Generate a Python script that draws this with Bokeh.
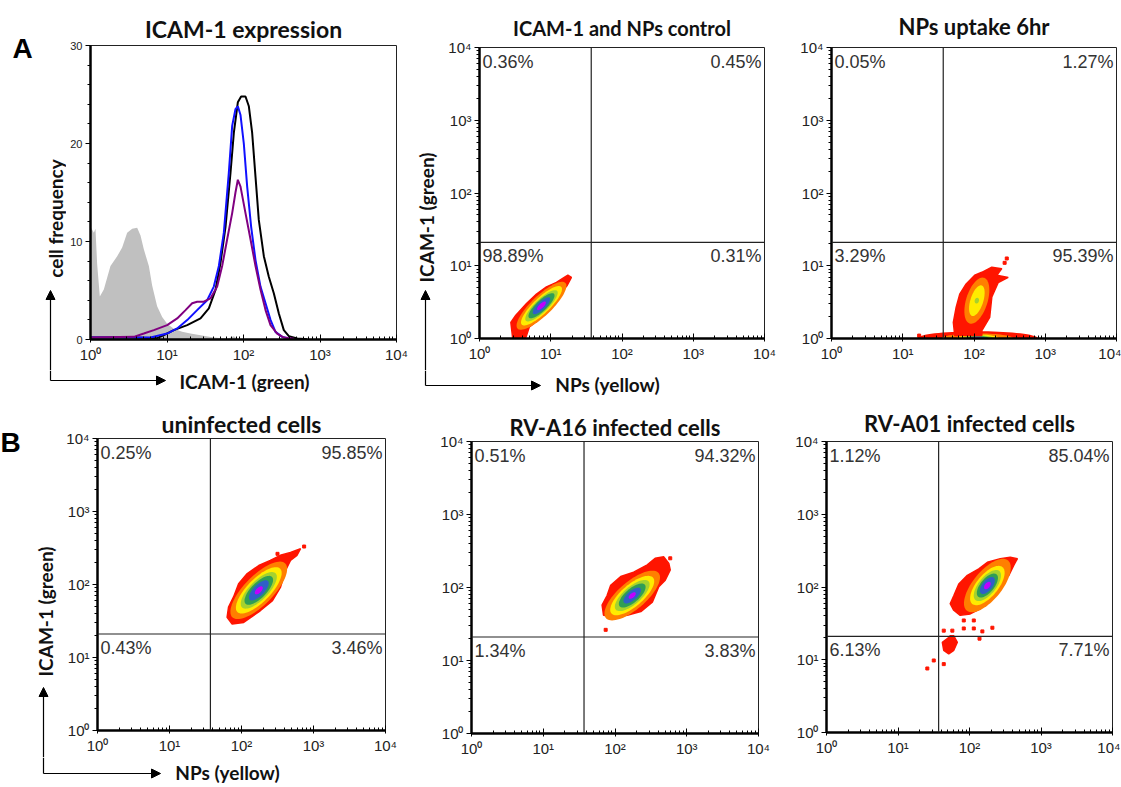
import numpy as np
from bokeh.plotting import figure
from bokeh.models import (Label, Arrow, NormalHead, Span, CustomJSTickFormatter,
                          FixedTicker, Range1d, SingleIntervalTicker)
from bokeh.layouts import row, column
from bokeh.embed import file_html
from bokeh.resources import INLINE

# ---------------- data (log10 positions) ----------------
# Panel A1 histogram: ICAM-1 expression
gray_lx = [0.0, 0.044, 0.065, 0.087, 0.122, 0.174, 0.261, 0.349, 0.414, 0.479, 0.545, 0.610,
           0.654, 0.697, 0.763, 0.806, 0.871, 0.937, 1.002, 1.089, 1.198, 1.307, 1.438,
           1.612, 1.786, 1.874, 1.917, 2.092]
gray_y = [11.5, 10.9, 11.3, 7.7, 4.4, 5.1, 7.5, 8.5, 9.4, 10.9, 11.3, 11.4,
          10.6, 9.2, 7.5, 5.5, 3.4, 2.3, 1.6, 1.1, 0.78, 0.61, 0.44,
          0.2, 0.07, 0.34, 0.07, 0.0]
black_lx = [0.0, 0.566, 0.871, 0.959, 1.089, 1.264, 1.438, 1.547, 1.634, 1.699, 1.765, 1.830,
            1.874, 1.926, 1.969, 2.026, 2.070, 2.113, 2.157, 2.200, 2.266, 2.331, 2.397,
            2.462, 2.527, 2.593, 2.702, 2.832]
black_y = [0.2, 0.2, 0.14, 0.44, 0.96, 1.47, 2.15, 3.17, 5.05, 7.8, 11.5, 17.0,
           21.1, 24.2, 24.8, 24.8, 23.8, 21.1, 16.6, 12.2, 8.5, 6.4, 4.7,
           2.66, 0.96, 0.34, 0.1, 0.03]
blue_lx = [0.0, 0.784, 1.002, 1.133, 1.264, 1.394, 1.525, 1.612, 1.678, 1.743, 1.808, 1.852,
           1.895, 1.926, 1.961, 2.004, 2.048, 2.100, 2.157, 2.222, 2.288, 2.353, 2.418,
           2.505, 2.614]
blue_y = [0.2, 0.2, 0.61, 1.13, 1.98, 3.0, 4.0, 5.4, 7.5, 10.9, 17.0, 21.8,
          23.5, 23.8, 22.9, 20.0, 15.6, 11.5, 8.1, 5.4, 3.7, 2.0, 0.78,
          0.27, 0.07]
purple_lx = [0.0, 0.566, 0.697, 0.828, 1.002, 1.133, 1.242, 1.329, 1.394, 1.481, 1.569, 1.656,
             1.721, 1.786, 1.852, 1.895, 1.926, 1.961, 2.026, 2.092, 2.157, 2.222, 2.288,
             2.353, 2.440, 2.527, 2.658]
purple_y = [0.2, 0.27, 0.61, 0.96, 1.47, 2.15, 3.0, 3.7, 3.86, 3.86, 4.2, 5.4,
            7.5, 10.2, 12.9, 15.0, 16.3, 15.6, 12.9, 10.2, 7.5, 5.1, 3.0,
            1.47, 0.61, 0.2, 0.07]

# Quadrant gates (NPs threshold, ICAM-1 threshold)
gate_x = 37
gate_y = 21

# Quadrant percentages: upper-left, upper-right, lower-left, lower-right
pct_control = ["0.36%", "0.45%", "98.89%", "0.31%"]
pct_uptake = ["0.05%", "1.27%", "3.29%", "95.39%"]
pct_uninf = ["0.25%", "95.85%", "0.43%", "3.46%"]
pct_a16 = ["0.51%", "94.32%", "1.34%", "3.83%"]
pct_a01 = ["1.12%", "85.04%", "6.13%", "7.71%"]

# Outer (red) density contours, log10 coordinates
ctrl_red_lx = [1.29, 1.23, 1.15, 1.05, 0.94, 0.82, 0.70, 0.66, 0.63, 0.47, 0.44, 0.51, 0.66,
               0.80, 0.94, 1.08, 1.19, 1.24]
ctrl_red_ly = [0.84, 0.73, 0.64, 0.52, 0.38, 0.25, 0.16, 0.04, -0.03, -0.03, 0.22, 0.32, 0.48,
               0.61, 0.71, 0.77, 0.84, 0.87]
upt_red_lx = [2.11, 2.25, 2.39, 2.32, 2.48, 2.34, 2.25, 2.22, 2.11, 2.11, 1.73, 1.71, 1.75,
              1.80, 1.89, 2.01]
upt_red_ly = [0.91, 0.98, 0.96, 0.87, 0.84, 0.77, 0.57, 0.29, 0.11, 0.04, 0.04, 0.22, 0.43,
              0.61, 0.75, 0.87]
uninf_red_lx = [2.82, 2.77, 2.68, 2.61, 2.54, 2.43, 2.26, 2.13, 2.03, 1.87, 1.80, 1.82, 1.89,
                1.96, 2.08, 2.24, 2.40, 2.54, 2.68]
uninf_red_ly = [2.49, 2.40, 2.33, 2.19, 1.96, 1.78, 1.64, 1.55, 1.48, 1.46, 1.55, 1.69, 1.83,
                2.01, 2.15, 2.26, 2.33, 2.40, 2.44]
a16_red_lx = [2.75, 2.77, 2.70, 2.61, 2.52, 2.36, 2.17, 1.98, 1.84, 1.82, 1.89, 1.94, 2.08,
              2.26, 2.45, 2.56, 2.68]
a16_red_ly = [2.33, 2.24, 2.10, 2.01, 1.80, 1.67, 1.62, 1.60, 1.62, 1.76, 1.89, 2.03, 2.15,
              2.21, 2.31, 2.40, 2.42]
a01_red_lx = [2.67, 2.62, 2.55, 2.41, 2.29, 2.15, 2.01, 1.87, 1.78, 1.73, 1.78, 1.85, 1.97,
              2.13, 2.25, 2.43, 2.57]
a01_red_ly = [2.39, 2.30, 2.16, 2.02, 1.84, 1.70, 1.63, 1.61, 1.68, 1.77, 1.88, 2.04, 2.16,
              2.25, 2.34, 2.39, 2.41]
a01_sat_lx = [1.78, 1.83, 1.78, 1.71, 1.64, 1.62, 1.69, 1.73]
a01_sat_ly = [1.33, 1.24, 1.13, 1.08, 1.13, 1.24, 1.29, 1.33]

# Isolated events (log10)
upt_dots_lx = [2.46, 2.43, 1.23]
upt_dots_ly = [1.10, 1.04, 0.04]
uninf_dots_lx = [2.87, 2.50]
uninf_dots_ly = [2.52, 2.42]
a16_dots_lx = [2.77, 1.87]
a16_dots_ly = [2.40, 1.42]
a01_dots_lx = [1.64, 1.92, 2.06, 2.18, 2.32, 2.14, 1.41, 1.50, 1.64, 2.06, 1.92, 1.76]
a01_dots_ly = [1.40, 1.43, 1.43, 1.39, 1.44, 1.29, 0.88, 0.99, 0.94, 1.54, 1.54, 1.40]

# Inner density levels: centre (log10), tilt (deg), semi-axes (decades)
ctrl_core = dict(cx=0.87, cy=0.45, ang=43,
                 a=[0.46, 0.38, 0.30, 0.24, 0.16, 0.08], b=[0.14, 0.11, 0.09, 0.075, 0.055, 0.03])
upt_core = dict(cx=2.04, cy=0.52, ang=72,
                a=[0.33, 0.22, 0.04], b=[0.15, 0.09, 0.03])
upt_band = dict(cx=2.05, cy=0.0, ang=0,
                a=[0.85, 0.5, 0.3, 0.22, 0.16, 0.10, 0.05], b=[0.10, 0.07, 0.055, 0.045, 0.035, 0.025, 0.015])
uninf_core = dict(cx=2.24, cy=1.92, ang=45,
                  a=[0.52, 0.42, 0.33, 0.26, 0.18, 0.07], b=[0.20, 0.16, 0.13, 0.105, 0.075, 0.035])
a16_core = dict(cx=2.24, cy=1.89, ang=40,
                a=[0.48, 0.38, 0.30, 0.23, 0.15, 0.06], b=[0.19, 0.15, 0.12, 0.095, 0.065, 0.03])
a01_core = dict(cx=2.25, cy=2.02, ang=50,
                a=[0.45, 0.33, 0.26, 0.20, 0.14, 0.06], b=[0.20, 0.15, 0.12, 0.095, 0.07, 0.035])

RED = "#ff1500"
LEVELS = ["#ff7f00", "#ffec00", "#a6d22e", "#2f9e55", "#2f5fc8", "#c000ff"]
LEVELS7 = [RED] + LEVELS

DECADES = [1, 10, 100, 1000, 10000]
MINORS = [m * 10 ** k for k in range(4) for m in range(2, 10)]

TXT = "#333333"
LBL_FONT = "Lato"
NUM_FONT = "Liberation Sans"
AX_SIZE = "19px"

sup_fmt_code = """
const s = {0: '\u2070', 1: '\u00b9', 2: '\u00b2', 3: '\u00b3', 4: '\u2074'};
const e = Math.round(Math.log10(tick));
return '10' + (s[e] !== undefined ? s[e] : '');
"""


def style_axes(p, ylog=True):
    p.xaxis.ticker = FixedTicker(ticks=DECADES, minor_ticks=MINORS)
    p.xaxis.formatter = CustomJSTickFormatter(code=sup_fmt_code)
    if ylog:
        p.yaxis.ticker = FixedTicker(ticks=DECADES, minor_ticks=MINORS)
        p.yaxis.formatter = CustomJSTickFormatter(code=sup_fmt_code)
    for ax in (p.xaxis[0], p.yaxis[0]):
        ax.axis_line_width = 2.5
        ax.axis_line_color = "black"
        ax.major_tick_line_color = "black"
        ax.minor_tick_line_color = "black"
        ax.major_label_text_font = NUM_FONT
        ax.major_label_text_font_size = "15px"
        ax.major_label_text_color = "#222222"
        ax.major_label_standoff = 3
    p.xaxis.major_tick_in = 5
    p.xaxis.major_tick_out = 3
    p.xaxis.minor_tick_in = 3
    p.xaxis.minor_tick_out = 0
    p.yaxis.major_tick_in = 0
    p.yaxis.major_tick_out = 5
    p.yaxis.minor_tick_in = 0
    p.yaxis.minor_tick_out = 3
    p.grid.visible = False
    p.outline_line_color = "#222222"
    p.outline_line_width = 1


def make_fig(title, fw, fh, left, right, top, bottom, standoff, tsize, ylog=True):
    p = figure(frame_width=fw, frame_height=fh,
               min_border_left=left, min_border_right=right,
               min_border_top=top, min_border_bottom=bottom,
               x_axis_type="log", y_axis_type="log" if ylog else "linear",
               x_range=Range1d(1, 1e4),
               y_range=Range1d(1, 1e4) if ylog else Range1d(0, 30),
               toolbar_location=None, output_backend="svg", title=title)
    p.title.align = "center"
    p.title.text_font = LBL_FONT
    p.title.text_font_style = "bold"
    p.title.text_font_size = tsize
    p.title.text_color = "#111111"
    p.title.standoff = standoff
    style_axes(p, ylog)
    return p


def helper(w, h):
    # blank pixel-sized canvas that carries axis titles and arrows around a panel
    p = figure(width=w, height=h, x_range=Range1d(0, w), y_range=Range1d(0, h),
               min_border=0, toolbar_location=None, output_backend="svg",
               x_axis_location=None, y_axis_location=None, title=None)
    p.grid.visible = False
    p.outline_line_color = None
    return p


def ellipse_xy(cx, cy, a, b, ang, n=72):
    t = np.linspace(0, 2 * np.pi, n, endpoint=False)
    th = np.radians(ang)
    lx = cx + a * np.cos(t) * np.cos(th) - b * np.sin(t) * np.sin(th)
    ly = cy + a * np.cos(t) * np.sin(th) + b * np.sin(t) * np.cos(th)
    return 10 ** lx, 10 ** ly


def pow10(v):
    return [10 ** u for u in v]


def draw_levels(p, core, colors):
    for a, b, c in zip(core["a"], core["b"], colors):
        ex, ey = ellipse_xy(core["cx"], core["cy"], a, b, core["ang"])
        p.patch(ex, ey, fill_color=c, line_color=None)


def draw_red(p, lx, ly):
    p.patch(pow10(lx), pow10(ly), fill_color=RED, line_color=RED, line_width=1.5)


def draw_dots(p, lx, ly):
    p.scatter(pow10(lx), pow10(ly), marker="square", size=3, color=RED)


def draw_gates(p, pct):
    p.add_layout(Span(location=gate_x, dimension="height", line_color="#222222", line_width=1.2))
    p.add_layout(Span(location=gate_y, dimension="width", line_color="#222222", line_width=1.2))
    specs = [(1, 1e4, "left", 3, pct[0]), (1e4, 1e4, "right", -3, pct[1]),
             (1, gate_y, "left", 3, pct[2]), (1e4, gate_y, "right", -3, pct[3])]
    for x, y, al, xo, t in specs:
        p.add_layout(Label(x=x, y=y, text=t, x_offset=xo, y_offset=-4, text_align=al,
                           text_baseline="top", text_font=NUM_FONT, text_font_size="18px",
                           text_color=TXT))


def text_at(p, x, y, text, angle=0.0, size=AX_SIZE, font=LBL_FONT, align="center",
            baseline="middle", color="#111111"):
    p.add_layout(Label(x=x, y=y, text=text, angle=angle, text_align=align,
                       text_baseline=baseline, text_font=font, text_font_size=size,
                       text_font_style="bold", text_color=color))


def arrow(p, x0, y0, x1, y1, head=True):
    p.add_layout(Arrow(end=NormalHead(size=9, fill_color="black", line_color="black") if head else None,
                       x_start=x0, y_start=y0, x_end=x1, y_end=y1,
                       line_color="black", line_width=1.2))


# ---------------- Row A ----------------
pA1 = make_fig("ICAM-1 expression", 306, 294, 24, 17, 45, 31, 5, "23px", ylog=False)
pA1.yaxis.ticker = SingleIntervalTicker(interval=10, num_minor_ticks=5)
pA1.yaxis.major_label_text_font_size = "11px"
pA1.varea(x=pow10(gray_lx), y1=0, y2=gray_y, fill_color="#c0c0c0")
pA1.line(pow10(black_lx), black_y, line_color="black", line_width=2)
pA1.line(pow10(blue_lx), blue_y, line_color="#1010ff", line_width=2)
pA1.line(pow10(purple_lx), purple_y, line_color="#800080", line_width=2)

yA1 = helper(66, 370)
text_at(yA1, 55, 152, "cell frequency", angle=np.pi / 2)
arrow(yA1, 50, 0, 50, 80)
text_at(yA1, 12, 322, "A", size="28px", font=NUM_FONT, align="left", baseline="alphabetic",
        color="black")
xA1 = helper(413, 30)
arrow(xA1, 50, 30, 50, 20, head=False)
arrow(xA1, 50, 20, 165, 20)
text_at(xA1, 244, 19, "ICAM-1 (green)")

pA2 = make_fig("ICAM-1 and NPs control", 285, 291, 33, 15, 47, 32, 16, "20px")
draw_red(pA2, ctrl_red_lx, ctrl_red_ly)
draw_levels(pA2, ctrl_core, LEVELS)
draw_gates(pA2, pct_control)

yA2 = helper(32, 370)
text_at(yA2, 13, 153, "ICAM-1 (green)", angle=np.pi / 2)
arrow(yA2, 12, 0, 12, 80)
xA2 = helper(365, 30)
arrow(xA2, 12, 30, 12, 15, head=False)
arrow(xA2, 12, 15, 127, 15)
text_at(xA2, 194, 16, "NPs (yellow)")

pA3 = make_fig("NPs uptake 6hr", 285, 291, 52, 5, 47, 62, 16, "22px")
draw_levels(pA3, upt_band, LEVELS7)
draw_red(pA3, upt_red_lx, upt_red_ly)
draw_levels(pA3, upt_core, LEVELS[:3])
draw_dots(pA3, upt_dots_lx, upt_dots_ly)
draw_gates(pA3, pct_uptake)

# ---------------- Row B ----------------
pB1 = make_fig("uninfected cells", 288, 292, 35, 28, 38, 27, 1, "23px")
draw_red(pB1, uninf_red_lx, uninf_red_ly)
draw_levels(pB1, uninf_core, LEVELS)
draw_dots(pB1, uninf_dots_lx, uninf_dots_ly)
draw_gates(pB1, pct_uninf)

yB1 = helper(62, 357)
text_at(yB1, 45, 146, "ICAM-1 (green)", angle=np.pi / 2)
arrow(yB1, 43, 0, 43, 70)
text_at(yB1, 0, 315, "B", size="28px", font=NUM_FONT, align="left", baseline="alphabetic",
        color="black")
xB1 = helper(413, 30)
arrow(xB1, 43, 30, 43, 14, head=False)
arrow(xB1, 43, 14, 160, 14)
text_at(xB1, 227, 15, "NPs (yellow)")

pB2 = make_fig("RV-A16 infected cells", 287, 292, 58, 20, 38, 57, 2, "22px")
draw_red(pB2, a16_red_lx, a16_red_ly)
draw_levels(pB2, a16_core, LEVELS)
draw_dots(pB2, a16_dots_lx, a16_dots_ly)
draw_gates(pB2, pct_a16)

pB3 = make_fig("RV-A01 infected cells", 286, 291, 48, 8, 41, 55, 9, "22px")
draw_red(pB3, a01_red_lx, a01_red_ly)
draw_red(pB3, a01_sat_lx, a01_sat_ly)
draw_levels(pB3, a01_core, LEVELS)
draw_dots(pB3, a01_dots_lx, a01_dots_ly)
draw_gates(pB3, pct_a01)

colA1 = column(row(column(yA1), pA1), xA1)
colA2 = column(row(column(yA2), pA2), xA2)
colB1 = column(row(column(yB1), pB1), xB1)
layout = column(row(colA1, colA2, pA3), row(colB1, pB2, pB3))
open("out.html", "w").write(file_html(layout, INLINE))
